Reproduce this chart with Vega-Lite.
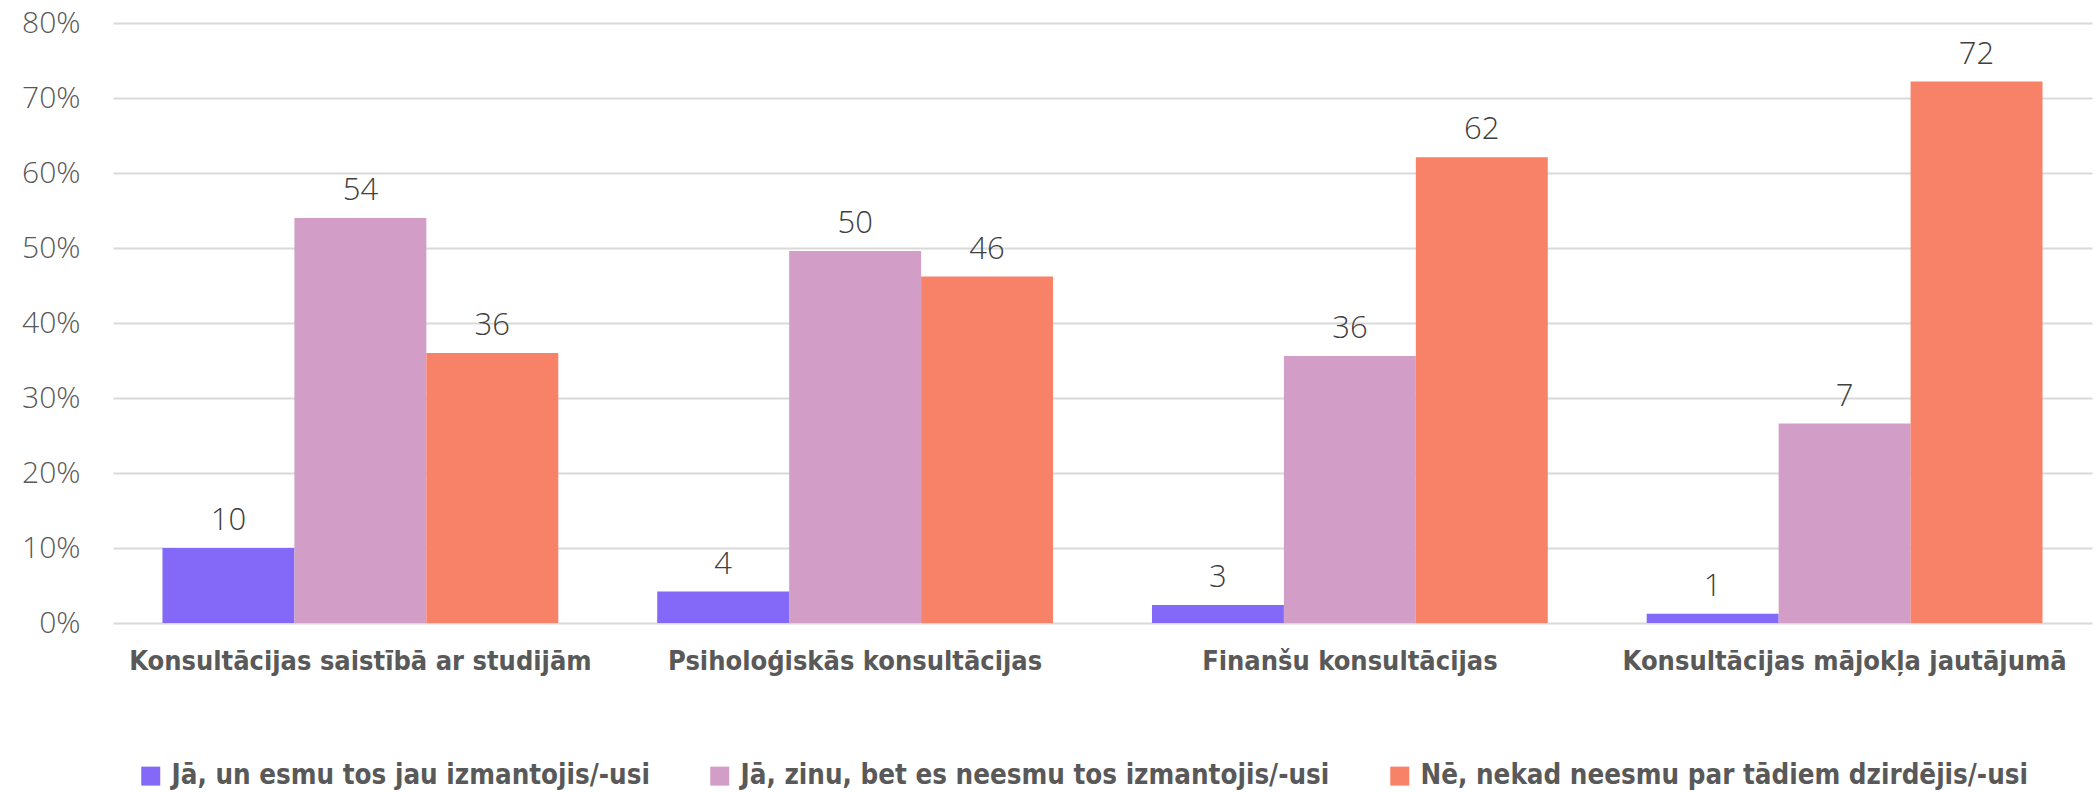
{
  "$schema": "https://vega.github.io/schema/vega-lite/v6.json",
  "autosize": "none",
  "padding": {"left": 113, "top": 23, "right": 4, "bottom": 169},
  "width": 1979,
  "height": 600,
  "background": "white",
  "config": {"view": {"stroke": null}},
  "data": {
    "values": [
      {"cat": "Konsultācijas saistībā ar studijām", "series": "Jā, un esmu tos jau izmantojis/-usi", "value": 10.0, "label": "10"},
      {"cat": "Konsultācijas saistībā ar studijām", "series": "Jā, zinu, bet es neesmu tos izmantojis/-usi", "value": 54.0, "label": "54"},
      {"cat": "Konsultācijas saistībā ar studijām", "series": "Nē, nekad neesmu par tādiem dzirdējis/-usi", "value": 36.0, "label": "36"},
      {"cat": "Psiholoģiskās konsultācijas", "series": "Jā, un esmu tos jau izmantojis/-usi", "value": 4.2, "label": "4"},
      {"cat": "Psiholoģiskās konsultācijas", "series": "Jā, zinu, bet es neesmu tos izmantojis/-usi", "value": 49.6, "label": "50"},
      {"cat": "Psiholoģiskās konsultācijas", "series": "Nē, nekad neesmu par tādiem dzirdējis/-usi", "value": 46.2, "label": "46"},
      {"cat": "Finanšu konsultācijas", "series": "Jā, un esmu tos jau izmantojis/-usi", "value": 2.4, "label": "3"},
      {"cat": "Finanšu konsultācijas", "series": "Jā, zinu, bet es neesmu tos izmantojis/-usi", "value": 35.6, "label": "36"},
      {"cat": "Finanšu konsultācijas", "series": "Nē, nekad neesmu par tādiem dzirdējis/-usi", "value": 62.1, "label": "62"},
      {"cat": "Konsultācijas mājokļa jautājumā", "series": "Jā, un esmu tos jau izmantojis/-usi", "value": 1.25, "label": "1"},
      {"cat": "Konsultācijas mājokļa jautājumā", "series": "Jā, zinu, bet es neesmu tos izmantojis/-usi", "value": 26.6, "label": "7"},
      {"cat": "Konsultācijas mājokļa jautājumā", "series": "Nē, nekad neesmu par tādiem dzirdējis/-usi", "value": 72.2, "label": "72"}
    ]
  },
  "encoding": {
    "x": {
      "field": "cat", "type": "nominal", "sort": null,
      "scale": {"paddingInner": 0.2, "paddingOuter": 0.1},
      "axis": {
        "title": null, "domain": false, "ticks": false, "tickSize": 0, "grid": false,
        "labelAngle": 0, "labelFont": "DejaVu Sans Condensed", "labelFontWeight": "bold",
        "labelFontSize": 27, "labelColor": "#595959", "labelBaseline": "alphabetic",
        "labelPadding": 46, "labelLimit": 600
      }
    },
    "xOffset": {
      "field": "series", "type": "nominal",
      "sort": ["Jā, un esmu tos jau izmantojis/-usi", "Jā, zinu, bet es neesmu tos izmantojis/-usi", "Nē, nekad neesmu par tādiem dzirdējis/-usi"],
      "scale": {"paddingInner": 0, "paddingOuter": 0}
    },
    "y": {
      "field": "value", "type": "quantitative",
      "scale": {"domain": [0, 80], "nice": false},
      "axis": {
        "title": null, "domain": false, "ticks": false, "tickSize": 0,
        "values": [0, 10, 20, 30, 40, 50, 60, 70, 80],
        "labelExpr": "datum.value + '%'",
        "labelFont": "Open Sans", "labelFontWeight": 300, "labelFontSize": 30,
        "labelColor": "#595959", "labelPadding": 33,
        "gridColor": "#d9d9d9", "gridWidth": 2
      }
    }
  },
  "layer": [
    {
      "mark": {"type": "bar"},
      "encoding": {
        "color": {
          "field": "series", "type": "nominal",
          "sort": ["Jā, un esmu tos jau izmantojis/-usi", "Jā, zinu, bet es neesmu tos izmantojis/-usi", "Nē, nekad neesmu par tādiem dzirdējis/-usi"],
          "scale": {
            "domain": ["Jā, un esmu tos jau izmantojis/-usi", "Jā, zinu, bet es neesmu tos izmantojis/-usi", "Nē, nekad neesmu par tādiem dzirdējis/-usi"],
            "range": ["#8468F8", "#D29EC8", "#F88268"]
          },
          "legend": {
            "title": null, "orient": "none", "direction": "horizontal", "columns": 3,
            "legendX": 24, "legendY": 739,
            "symbolType": "square", "symbolSize": 361, "symbolStrokeWidth": 0,
            "labelFont": "DejaVu Sans Condensed", "labelFontWeight": "bold",
            "labelFontSize": 27.5, "labelColor": "#595959", "labelOffset": 7,
            "labelLimit": 800, "columnPadding": 56
          }
        }
      }
    },
    {
      "mark": {"type": "text", "baseline": "alphabetic", "dy": -18, "font": "Open Sans", "fontWeight": 300, "fontSize": 31, "color": "#404040"},
      "encoding": {
        "text": {"field": "label"}
      }
    }
  ]
}
